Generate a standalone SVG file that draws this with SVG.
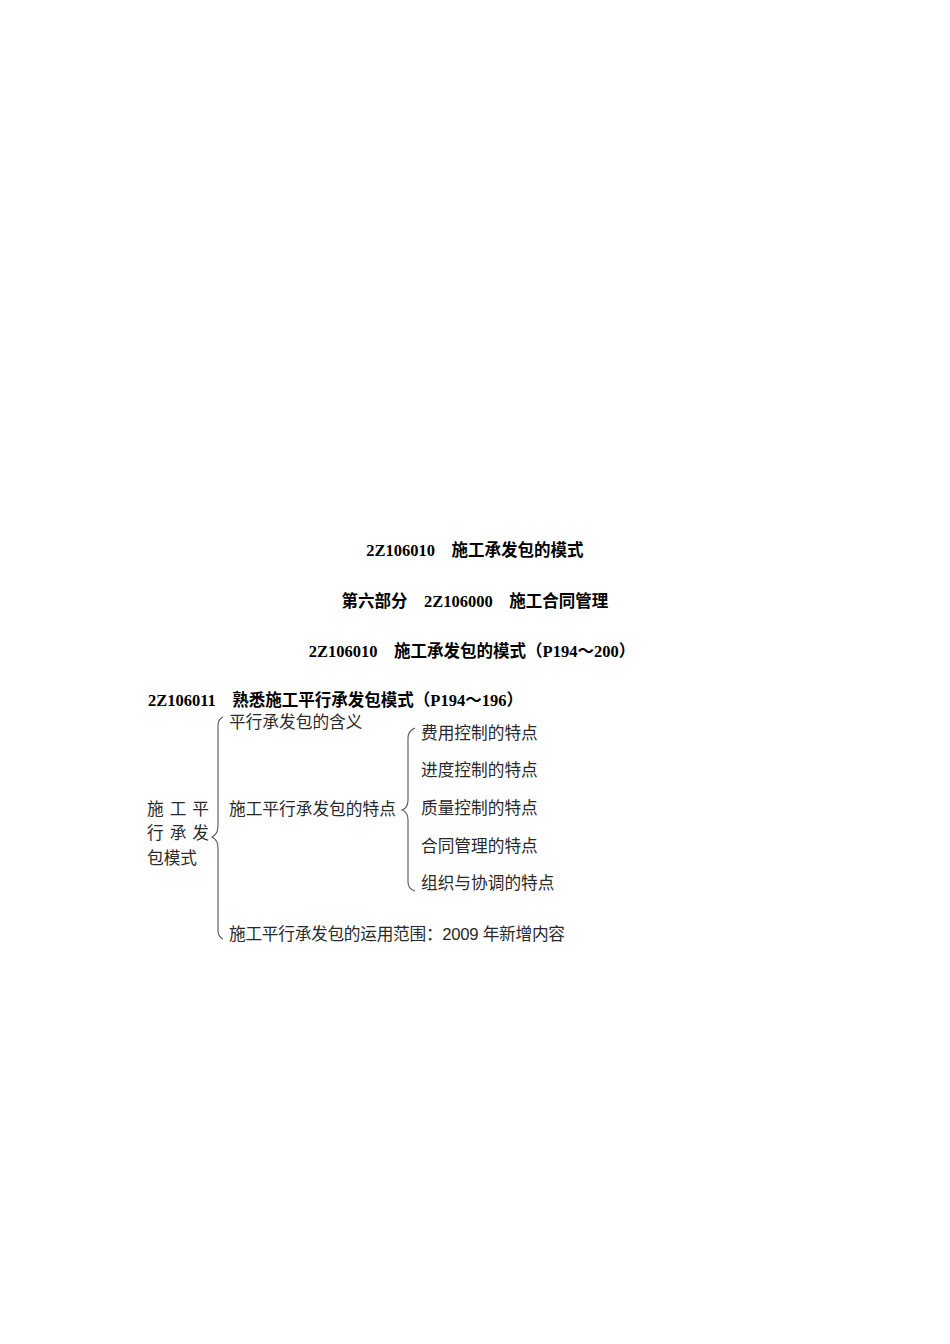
<svg xmlns="http://www.w3.org/2000/svg" width="950" height="1344" viewBox="0 0 950 1344">
<style>
.t{font-family:"Liberation Serif","Noto Sans CJK SC",serif;font-weight:bold;font-size:16.5px;fill:#000}
.n{font-family:"Liberation Sans","Noto Sans CJK SC",sans-serif;font-size:16.7px;fill:#2a2a2a}
.b{fill:none;stroke:#555;stroke-width:1.1}
</style>
<rect width="950" height="1344" fill="#fff"/>
<g id="titles">
<text class="t" x="475" y="556" text-anchor="middle">2Z106010　施工承发包的模式</text>
<text class="t" x="475" y="607" text-anchor="middle">第六部分　2Z106000　施工合同管理</text>
<text class="t" x="472" y="657" text-anchor="middle">2Z106010　施工承发包的模式（P194～200）</text>
<text class="t" x="148" y="706">2Z106011　熟悉施工平行承发包模式（P194～196）</text>
</g>
<g id="connectors">
<path class="b" d="M223,717 Q218,719 218,726 L218,826 Q218,834 212,837 Q218,840 218,848 L218,930 Q218,937 223,939"/>
<path class="b" d="M415,728 Q408,731 408,738 L408,800 Q408,808 402,810 Q408,812 408,820 L408,882 Q408,889 415,891"/>
</g>
<g id="root"><text class="n" x="147" y="815" textLength="62">施 工 平</text><text class="n" x="147" y="839" textLength="62">行 承 发</text><text class="n" x="147" y="864">包模式</text></g>
<g id="n1"><text class="n" x="229" y="728">平行承发包的含义</text></g>
<g id="n2"><text class="n" x="229" y="815">施工平行承发包的特点</text></g>
<g id="n3"><text class="n" x="229" y="940" textLength="336">施工平行承发包的运用范围：2009 年新增内容</text></g>
<g id="c1"><text class="n" x="421" y="739">费用控制的特点</text></g>
<g id="c2"><text class="n" x="421" y="776">进度控制的特点</text></g>
<g id="c3"><text class="n" x="421" y="814">质量控制的特点</text></g>
<g id="c4"><text class="n" x="421" y="852">合同管理的特点</text></g>
<g id="c5"><text class="n" x="421" y="889">组织与协调的特点</text></g>
</svg>
